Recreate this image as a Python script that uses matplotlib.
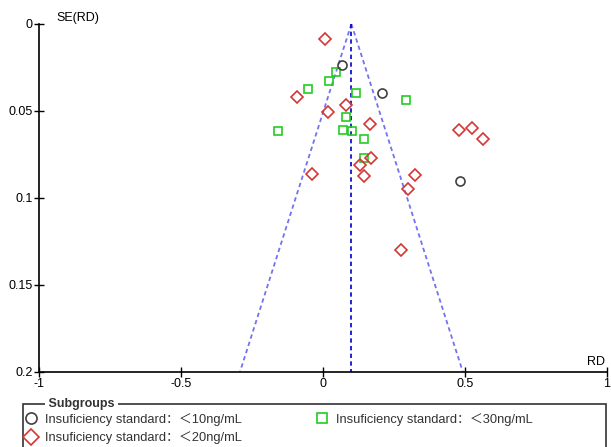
import numpy as np
import matplotlib
matplotlib.use("Agg")
import matplotlib.pyplot as plt
from matplotlib.patches import Rectangle
from matplotlib.lines import Line2D

plt.rcParams['font.family'] = ['Liberation Sans', 'Noto Sans CJK SC', 'DejaVu Sans']

# pooled effect and funnel depth
rd_pooled = 0.1
se_max = 0.2

# subgroup <10ng/mL (circles)
rd_10 = [0.067, 0.208, 0.482]
se_10 = [0.0236, 0.0397, 0.0904]

# subgroup <20ng/mL (diamonds)
rd_20 = [0.006, -0.093, 0.017, 0.081, 0.165, 0.168, 0.130, 0.144, -0.038,
         0.324, 0.299, 0.478, 0.525, 0.564, 0.274]
se_20 = [0.0088, 0.0422, 0.0505, 0.0468, 0.0576, 0.0770, 0.0812, 0.0877, 0.0866,
         0.0870, 0.0949, 0.0610, 0.0599, 0.0659, 0.1300]

# subgroup <30ng/mL (squares)
rd_30 = [0.046, 0.021, -0.053, 0.117, 0.292, 0.081, -0.157, 0.072, 0.103,
         0.143, 0.145]
se_30 = [0.0278, 0.0330, 0.0373, 0.0396, 0.0438, 0.0538, 0.0616, 0.0609, 0.0615,
         0.0662, 0.0770]

labels = ["Insuficiency standard：＜10ng/mL",
          "Insuficiency standard：＜20ng/mL",
          "Insuficiency standard：＜30ng/mL"]

xticks = [-1, -0.5, 0, 0.5, 1]
xticklabels = ["-1", "-0.5", "0", "0.5", "1"]
yticks = [0, 0.05, 0.1, 0.15, 0.2]
yticklabels = ["0", "0.05", "0.1", "0.15", "0.2"]

W, H = 611, 447
fig = plt.figure(figsize=(W / 100, H / 100), dpi=100)
ax = fig.add_axes([39 / W, 1 - 371.5 / H, (607 - 39) / W, (371.5 - 24) / H])

# funnel
se_line = np.array([0, se_max])
ax.plot(rd_pooled - 1.96 * se_line, se_line, color="#5a5aee", lw=1.3,
        dashes=(2.4, 1.8), alpha=0.85)
ax.plot(rd_pooled + 1.96 * se_line, se_line, color="#5a5aee", lw=1.3,
        dashes=(2.4, 1.8), alpha=0.85)
ax.plot([rd_pooled, rd_pooled], [0, se_max], color="#0000cc", lw=1.2,
        dashes=(2.6, 2.0))

ax.plot(rd_30, se_30, ls="none", marker="s", ms=6.3, mfc="none", mec="#22cc22", mew=1.2)
ax.plot(rd_20, se_20, ls="none", marker="D", ms=6.0, mfc="none", mec="#d43535", mew=1.2)
ax.plot(rd_10, se_10, ls="none", marker="o", ms=6.5, mfc="none", mec="#404040", mew=1.2)

ax.set_xlim(-1, 1)
ax.set_ylim(se_max, 0)
ax.set_xticks(xticks)
ax.set_xticklabels(xticklabels)
ax.set_yticks(yticks)
ax.set_yticklabels(yticklabels)
ax.tick_params(direction="inout", length=7, width=1, labelsize=9, pad=1)
for s in ["top", "right"]:
    ax.spines[s].set_visible(False)
for s in ["left", "bottom"]:
    ax.spines[s].set_linewidth(1.2)

fig.text(56 / W, 1 - 18 / H, "SE(RD)", fontsize=9, ha="left", va="center")
fig.text(605 / W, 1 - 362 / H, "RD", fontsize=9, ha="right", va="center")

# legend box with title on the border
fig.patches.append(Rectangle((23 / W, -0.02), (606 - 23) / W, (447 - 404) / H + 0.02,
                             transform=fig.transFigure, fill=False,
                             ec="#333333", lw=1.2))
fig.text(45 / W, 1 - 404 / H, " Subgroups ", fontsize=9, fontweight="bold",
         color="#333333", ha="left", va="center",
         bbox=dict(fc="white", ec="none", pad=0))

handles = [
    Line2D([], [], ls="none", marker="o", ms=8, mfc="none", mec="#404040", mew=1.2),
    Line2D([], [], ls="none", marker="D", ms=8, mfc="none", mec="#d43535", mew=1.2),
    Line2D([], [], ls="none", marker="s", ms=7.5, mfc="none", mec="#22cc22", mew=1.2),
]
leg = fig.legend(handles, labels, ncol=2, loc="upper left",
                 bbox_to_anchor=(25 / W, 1 - 413 / H), frameon=False,
                 fontsize=9.3, handlelength=1.0, handletextpad=0.55,
                 labelspacing=0.42, columnspacing=5.7, borderpad=0,
                 borderaxespad=0)
for t in leg.get_texts():
    t.set_color("#333333")

fig.savefig("out.png", dpi=100)
